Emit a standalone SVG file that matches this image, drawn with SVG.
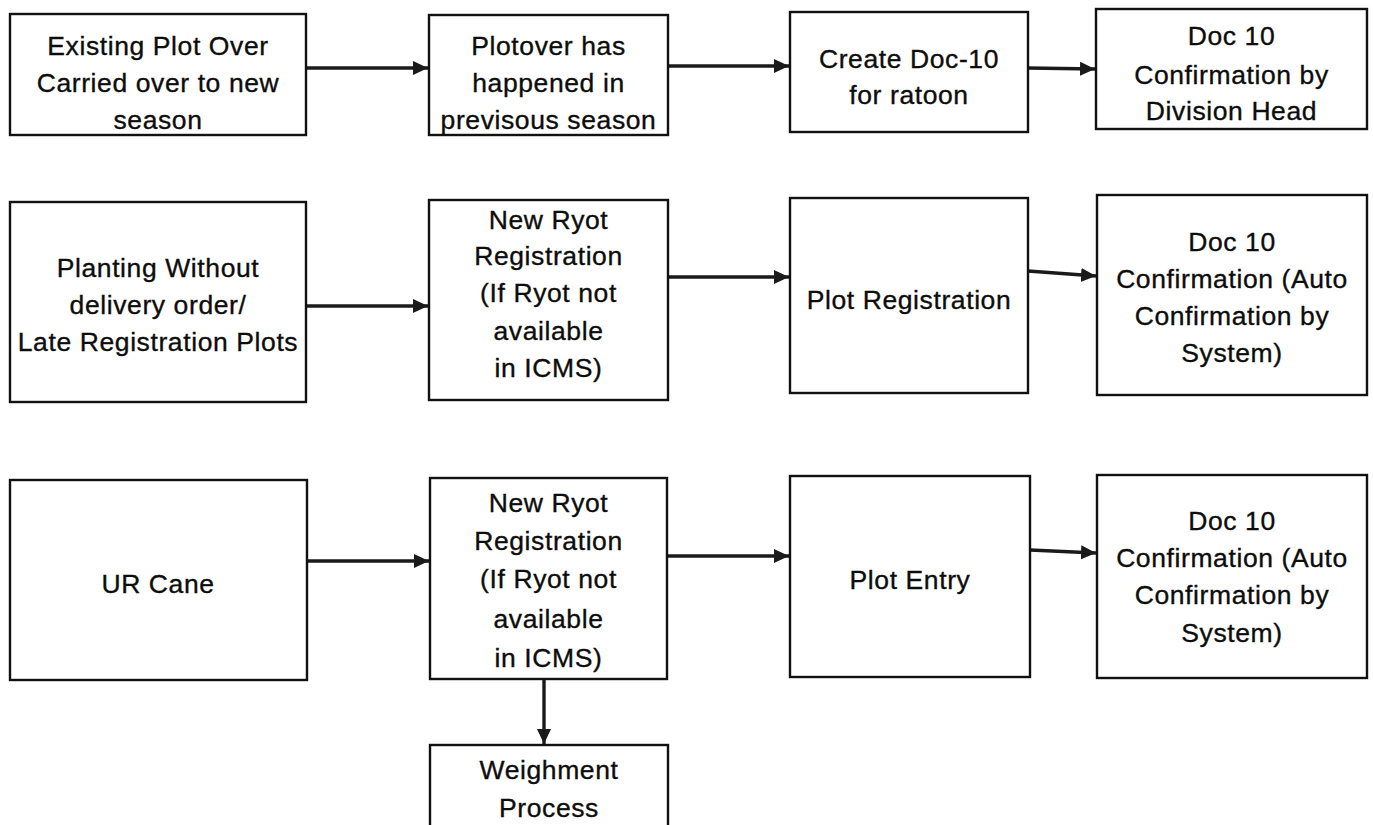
<svg xmlns="http://www.w3.org/2000/svg" width="1373" height="825" viewBox="0 0 1373 825">
<defs>
<style>
.box{fill:#fff;stroke:#111;stroke-width:2.4}
.lbl{font-family:"Liberation Sans",Arial,sans-serif;font-size:26.5px;letter-spacing:0.6px;fill:#0d0d0d;stroke:#0d0d0d;stroke-width:0.35;text-anchor:middle}
.edge{stroke:#1a1a1a;stroke-width:3.4;fill:none}
</style>
<marker id="ah" markerUnits="userSpaceOnUse" markerWidth="16" markerHeight="16" refX="15" refY="8" orient="auto">
<path d="M0,1 L15,8 L0,15 z" fill="#1a1a1a"/>
</marker>
</defs>
<rect width="1373" height="825" fill="#fff"/>
<g id="connectors">
<line class="edge" x1="306" y1="68" x2="428" y2="68" marker-end="url(#ah)"/>
<line class="edge" x1="668" y1="66" x2="789" y2="66" marker-end="url(#ah)"/>
<line class="edge" x1="1028" y1="68" x2="1095" y2="69" marker-end="url(#ah)"/>
<line class="edge" x1="306" y1="306" x2="428" y2="306" marker-end="url(#ah)"/>
<line class="edge" x1="668" y1="277" x2="789" y2="277" marker-end="url(#ah)"/>
<line class="edge" x1="1028" y1="271" x2="1096" y2="276" marker-end="url(#ah)"/>
<line class="edge" x1="307" y1="561" x2="429" y2="561" marker-end="url(#ah)"/>
<line class="edge" x1="667" y1="556" x2="789" y2="556" marker-end="url(#ah)"/>
<line class="edge" x1="1030" y1="550" x2="1096" y2="553" marker-end="url(#ah)"/>
<line class="edge" x1="544" y1="679" x2="544" y2="744" marker-end="url(#ah)"/>
</g>
<g id="n-existing-plot">
<rect class="box" x="10" y="14" width="296" height="121"/>
<text class="lbl" x="158" y="55">Existing Plot Over</text>
<text class="lbl" x="158" y="92">Carried over to new</text>
<text class="lbl" x="158" y="129">season</text>
</g>
<g id="n-plotover">
<rect class="box" x="429" y="15" width="239" height="120"/>
<text class="lbl" x="548.5" y="55">Plotover has</text>
<text class="lbl" x="548.5" y="92">happened in</text>
<text class="lbl" x="548.5" y="129">previsous season</text>
</g>
<g id="n-create-doc10">
<rect class="box" x="790" y="12" width="238" height="120"/>
<text class="lbl" x="909" y="68">Create Doc-10</text>
<text class="lbl" x="909" y="104">for ratoon</text>
</g>
<g id="n-doc10-division">
<rect class="box" x="1096" y="9" width="271" height="120"/>
<text class="lbl" x="1231.5" y="45">Doc 10</text>
<text class="lbl" x="1231.5" y="84">Confirmation by</text>
<text class="lbl" x="1231.5" y="120">Division Head</text>
</g>
<g id="n-planting">
<rect class="box" x="10" y="202" width="296" height="200"/>
<text class="lbl" x="158" y="277">Planting Without</text>
<text class="lbl" x="158" y="314">delivery order/</text>
<text class="lbl" x="158" y="351">Late Registration Plots</text>
</g>
<g id="n-new-ryot-1">
<rect class="box" x="429" y="200" width="239" height="200"/>
<text class="lbl" x="548.5" y="229">New Ryot</text>
<text class="lbl" x="548.5" y="265">Registration</text>
<text class="lbl" x="548.5" y="302">(If Ryot not</text>
<text class="lbl" x="548.5" y="340">available</text>
<text class="lbl" x="548.5" y="377">in ICMS)</text>
</g>
<g id="n-plot-registration">
<rect class="box" x="790" y="198" width="238" height="195"/>
<text class="lbl" x="909" y="309">Plot Registration</text>
</g>
<g id="n-doc10-auto-1">
<rect class="box" x="1097" y="195" width="270" height="200"/>
<text class="lbl" x="1232" y="251">Doc 10</text>
<text class="lbl" x="1232" y="288">Confirmation (Auto</text>
<text class="lbl" x="1232" y="325">Confirmation by</text>
<text class="lbl" x="1232" y="362">System)</text>
</g>
<g id="n-ur-cane">
<rect class="box" x="10" y="480" width="297" height="200"/>
<text class="lbl" x="158" y="593">UR Cane</text>
</g>
<g id="n-new-ryot-2">
<rect class="box" x="430" y="478" width="237" height="201"/>
<text class="lbl" x="548.5" y="512">New Ryot</text>
<text class="lbl" x="548.5" y="550">Registration</text>
<text class="lbl" x="548.5" y="588">(If Ryot not</text>
<text class="lbl" x="548.5" y="628">available</text>
<text class="lbl" x="548.5" y="667">in ICMS)</text>
</g>
<g id="n-plot-entry">
<rect class="box" x="790" y="476" width="240" height="201"/>
<text class="lbl" x="910" y="589">Plot Entry</text>
</g>
<g id="n-doc10-auto-2">
<rect class="box" x="1097" y="475" width="270" height="203"/>
<text class="lbl" x="1232" y="530">Doc 10</text>
<text class="lbl" x="1232" y="567">Confirmation (Auto</text>
<text class="lbl" x="1232" y="604">Confirmation by</text>
<text class="lbl" x="1232" y="642">System)</text>
</g>
<g id="n-weighment">
<rect class="box" x="430" y="745" width="238" height="100"/>
<text class="lbl" x="549" y="779">Weighment</text>
<text class="lbl" x="549" y="817">Process</text>
</g>
</svg>
